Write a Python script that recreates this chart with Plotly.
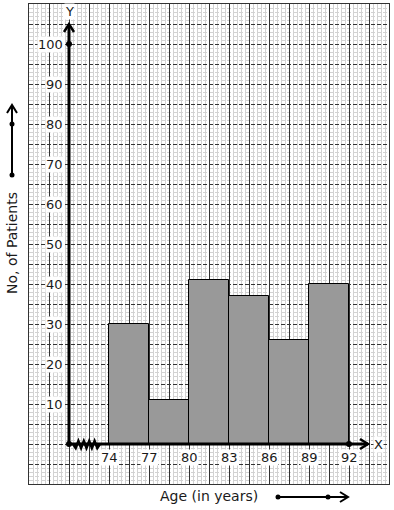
import plotly.graph_objects as go
import numpy as np

# ---- data ----
bin_edges = [74, 77, 80, 83, 86, 89, 92]
patients = [30, 11, 41, 37, 26, 40]
x_tick_labels = ["74", "77", "80", "83", "86", "89", "92"]
y_tick_values = [10, 20, 30, 40, 50, 60, 70, 80, 90, 100]
x_title = "Age (in years)"
y_title = "No, of Patients"

origin_x = 71          # broken-axis origin (kink between origin and 74)
X_RANGE = [68, 95]
Y_RANGE = [-10, 110]

W, H = 394, 510
ML, MR, MT, MB = 29, 5, 4, 26
PW, PH = W - ML - MR, H - MT - MB
ux = (X_RANGE[1] - X_RANGE[0]) / PW   # data units per px (x)
uy = (Y_RANGE[1] - Y_RANGE[0]) / PH   # data units per px (y)

FONT = "DejaVu Sans"
TXT = "#1a1a1a"
mids = [(a + b) / 2 for a, b in zip(bin_edges[:-1], bin_edges[1:])]
widths = [b - a for a, b in zip(bin_edges[:-1], bin_edges[1:])]

fig = go.Figure()
fig.add_trace(go.Bar(
    x=mids, y=patients, width=widths,
    marker=dict(color="#999999", line=dict(color="black", width=1)),
    hoverinfo="skip", showlegend=False,
))

# dots on axes
fig.add_trace(go.Scatter(
    x=[origin_x, origin_x, bin_edges[-1]], y=[0, y_tick_values[-1], 0],
    mode="markers", marker=dict(color="black", size=6),
    cliponaxis=False, showlegend=False, hoverinfo="skip",
))

shapes = []
LINE = dict(color="black", width=3)
# Y axis
y_top = Y_RANGE[1] - 20 * uy
shapes.append(dict(type="line", xref="x", yref="y", x0=origin_x, x1=origin_x, y0=0, y1=y_top, line=LINE))
shapes.append(dict(type="path", xref="x", yref="y",
                   path=f"M {origin_x-5*ux},{y_top-8*uy} L {origin_x},{y_top} L {origin_x+5*ux},{y_top-8*uy}",
                   line=dict(color="black", width=2.5)))
# X axis
x_tip = origin_x + 299 * ux
shapes.append(dict(type="line", xref="x", yref="y", x0=origin_x, x1=x_tip, y0=0, y1=0, line=LINE))
shapes.append(dict(type="path", xref="x", yref="y",
                   path=f"M {x_tip-8*ux},{5*uy} L {x_tip},0 L {x_tip-8*ux},{-5*uy}",
                   line=dict(color="black", width=2.5)))
# kink zigzag
zx = np.linspace(origin_x + 4 * ux, origin_x + 31 * ux, 11)
zy = [(-4 * uy if i % 2 else 3 * uy) for i in range(len(zx))]
zy[0] = 0
zy[-1] = 0
zpath = "M " + " L ".join(f"{a},{b}" for a, b in zip(zx, zy))
shapes.append(dict(type="path", xref="x", yref="y", path=zpath, line=dict(color="black", width=2.5)))

# helper for pixel coords -> paper coords
def px(xp):
    return (xp - ML) / PW
def py(yp):
    return (MT + PH - yp) / PH

# bottom direction arrow
shapes.append(dict(type="line", xref="paper", yref="paper", x0=px(278), x1=px(348), y0=py(497), y1=py(497),
                   line=dict(color="black", width=2)))
shapes.append(dict(type="path", xref="paper", yref="paper",
                   path=f"M {px(340)},{py(492)} L {px(348)},{py(497)} L {px(340)},{py(502)}",
                   line=dict(color="black", width=2)))
for xp in (278, 328):
    shapes.append(dict(type="circle", xref="paper", yref="paper", x0=px(xp-2.5), x1=px(xp+2.5),
                       y0=py(497+2.5), y1=py(497-2.5), fillcolor="black", line=dict(width=0)))
# left direction arrow
shapes.append(dict(type="line", xref="paper", yref="paper", x0=px(12), x1=px(12), y0=py(175), y1=py(105),
                   line=dict(color="black", width=2)))
shapes.append(dict(type="path", xref="paper", yref="paper",
                   path=f"M {px(7)},{py(113)} L {px(12)},{py(105)} L {px(17)},{py(113)}",
                   line=dict(color="black", width=2)))
for yp in (175, 124):
    shapes.append(dict(type="circle", xref="paper", yref="paper", x0=px(12-2.5), x1=px(12+2.5),
                       y0=py(yp+2.5), y1=py(yp-2.5), fillcolor="black", line=dict(width=0)))

annotations = []
for v in y_tick_values:
    annotations.append(dict(x=origin_x, y=v, xref="x", yref="y", text=str(v), showarrow=False,
                            xanchor="right", yanchor="middle", xshift=-5, bgcolor="white", borderpad=0,
                            font=dict(family=FONT, size=13, color=TXT)))
for e, lab in zip(bin_edges, x_tick_labels):
    annotations.append(dict(x=e, y=0, xref="x", yref="y", text=lab, showarrow=False,
                            xanchor="center", yanchor="top", yshift=-5, bgcolor="white", borderpad=0,
                            font=dict(family=FONT, size=13, color=TXT)))
annotations.append(dict(x=origin_x, y=Y_RANGE[1] - 7 * uy, xref="x", yref="y", text="Y", showarrow=False,
                        xanchor="center", yanchor="middle",
                        bgcolor="white", borderpad=0, font=dict(family=FONT, size=13, color=TXT)))
annotations.append(dict(x=origin_x + 309 * ux, y=0, xref="x", yref="y", text="X", showarrow=False,
                        xanchor="center", yanchor="middle",
                        bgcolor="white", borderpad=0, font=dict(family=FONT, size=13, color=TXT)))
annotations.append(dict(x=px(209), y=py(496), xref="paper", yref="paper", text=x_title, showarrow=False,
                        xanchor="center", yanchor="middle",
                        font=dict(family=FONT, size=14, color=TXT)))
annotations.append(dict(x=px(12), y=py(243), xref="paper", yref="paper", text=y_title, showarrow=False,
                        xanchor="center", yanchor="middle",
                        textangle=-90, font=dict(family=FONT, size=14, color=TXT)))

fig.update_layout(
    width=W, height=H,
    margin=dict(l=ML, r=MR, t=MT, b=MB),
    plot_bgcolor="white", paper_bgcolor="white",
    shapes=shapes, annotations=annotations,
    bargap=0, showlegend=False,
    xaxis=dict(range=X_RANGE, tick0=X_RANGE[0], dtick=1.5, showticklabels=False, ticks="",
               showgrid=True, gridcolor="#333333", gridwidth=1, zeroline=False,
               showline=True, mirror=True, linecolor="#333333", linewidth=1,
               minor=dict(tick0=X_RANGE[0], dtick=0.3, showgrid=True, gridcolor="#d2d2d2", gridwidth=1, ticks=""),
               fixedrange=True),
    yaxis=dict(range=Y_RANGE, tick0=0, dtick=5, showticklabels=False, ticks="",
               showgrid=True, gridcolor="#333333", gridwidth=1, griddash="4px,2px", zeroline=False,
               showline=True, mirror=True, linecolor="#333333", linewidth=1,
               minor=dict(tick0=0, dtick=1, showgrid=True, gridcolor="#d2d2d2", gridwidth=1, ticks=""),
               fixedrange=True),
)

fig.write_html("out.html", config={"displayModeBar": False})
